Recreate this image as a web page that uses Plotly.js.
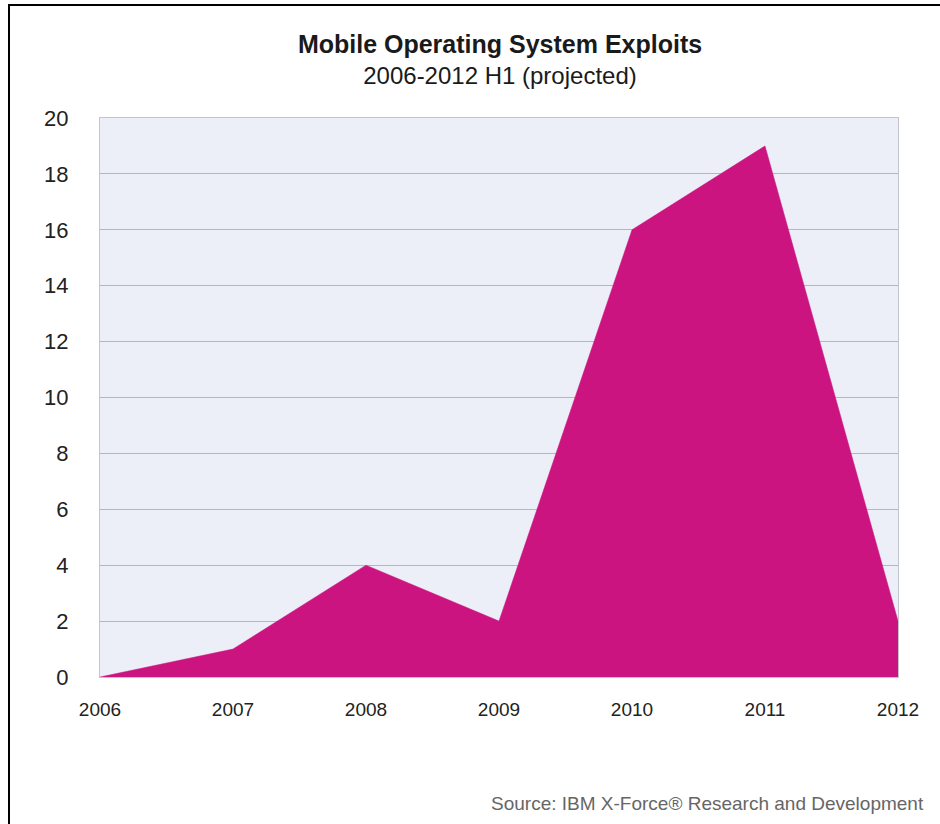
<!DOCTYPE html>
<html>
<head>
<meta charset="utf-8">
<script src="https://cdn.plot.ly/plotly-3.0.1.min.js"></script>
<style>
  html, body { margin: 0; padding: 0; background: #ffffff; }
  #wrap { position: relative; width: 940px; height: 824px; }
  #chart { position: absolute; left: 0; top: 0; width: 940px; height: 824px; }
  #frame { position: absolute; left: 8px; top: 4px; width: 940px; height: 830px;
           border-top: 2px solid #000; border-left: 2px solid #000; pointer-events: none; }
</style>
</head>
<body>
<div id="wrap">
  <div id="chart"></div>
  <div id="frame"></div>
</div>
<script>
const years = [2006, 2007, 2008, 2009, 2010, 2011, 2012];
const exploits = [0, 1, 4, 2, 16, 19, 2];
const yTicks = [0, 2, 4, 6, 8, 10, 12, 14, 16, 18, 20];
const xTickLabels = ['2006', '2007', '2008', '2009', '2010', '2011', '2012'];
const titleMain = 'Mobile Operating System Exploits';
const titleSub = '2006-2012 H1 (projected)';
const sourceText = 'Source: IBM X-Force\u00AE Research and Development';

const FONT = '"Liberation Sans", Arial, Helvetica, sans-serif';

const trace = {
  x: years,
  y: exploits,
  type: 'scatter',
  mode: 'lines',
  fill: 'tozeroy',
  fillcolor: '#cc1480',
  line: { color: '#cc1480', width: 0.5 },
  hoverinfo: 'x+y',
  showlegend: false
};

const layout = {
  width: 940,
  height: 824,
  margin: { l: 100, r: 42, t: 118, b: 147 },
  paper_bgcolor: '#ffffff',
  plot_bgcolor: '#edeff8',
  font: { family: FONT, color: '#222222' },
  title: {
    text: '<b><span style="font-size:25px">' + titleMain + '</span></b><br>' + titleSub,
    font: { family: FONT, size: 24, color: '#1a1a1a' },
    x: 500 / 940,
    xanchor: 'center',
    xref: 'container',
    y: 1 - 53 / 824,
    yanchor: 'top',
    yref: 'container'
  },
  xaxis: {
    range: [2006, 2012],
    tickvals: years,
    ticktext: xTickLabels,
    showgrid: false,
    zeroline: false,
    showline: true,
    linecolor: '#c4c4cc',
    linewidth: 1,
    mirror: true,
    ticks: '',
    ticklabelstandoff: 15,
    tickfont: { family: FONT, size: 19, color: '#222222' },
    fixedrange: true
  },
  yaxis: {
    range: [0, 20],
    tickvals: yTicks,
    ticktext: yTicks.map(String),
    showgrid: true,
    gridcolor: '#b6b6be',
    gridwidth: 1,
    zeroline: false,
    showline: true,
    linecolor: '#c4c4cc',
    linewidth: 1,
    mirror: true,
    ticks: '',
    ticklabelstandoff: 26,
    tickfont: { family: FONT, size: 22, color: '#222222' },
    fixedrange: true
  },
  annotations: [{
    text: sourceText,
    xref: 'paper', yref: 'paper',
    x: (926 - 100) / 798, xanchor: 'right',
    y: -(803 - 677) / 559, yanchor: 'middle',
    showarrow: false,
    font: { family: FONT, size: 19, color: '#666666' }
  }]
};

Plotly.newPlot('chart', [trace], layout, { displayModeBar: false, staticPlot: true });
</script>
</body>
</html>
